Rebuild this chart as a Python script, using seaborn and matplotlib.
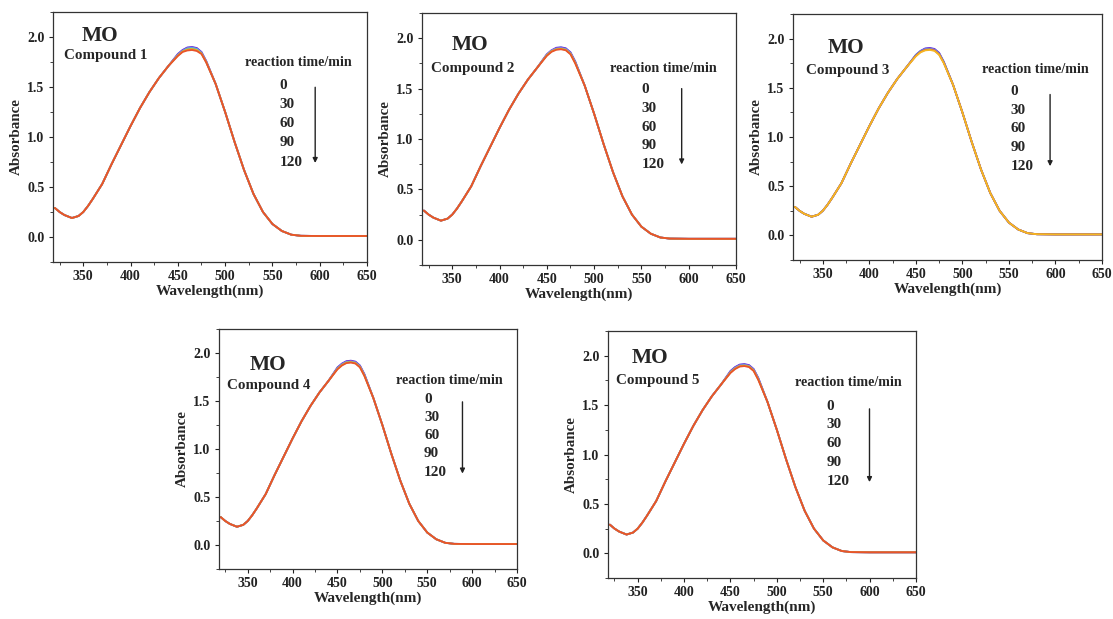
import matplotlib
matplotlib.use("Agg")
import matplotlib.pyplot as plt
from matplotlib.ticker import AutoMinorLocator
import seaborn as sns
import pandas as pd

# ---------------- data ----------------
times = [0, 30, 60, 90, 120]
compounds = ["Compound 1", "Compound 2", "Compound 3", "Compound 4", "Compound 5"]

wl_left = [320, 325, 330, 338, 345, 350, 355, 360, 370, 380, 390, 400, 410, 420, 430, 440]
abs_left = [0.29, 0.25, 0.22, 0.19, 0.21, 0.25, 0.31, 0.38, 0.53, 0.73, 0.92, 1.11, 1.29, 1.45, 1.59, 1.71]

wl_peak = [450, 455, 460, 465, 470, 475, 480]
peak_c1 = [[1.83, 1.87, 1.895, 1.90, 1.89, 1.85, 1.76],
           [1.825, 1.865, 1.89, 1.895, 1.885, 1.845, 1.755],
           [1.82, 1.86, 1.885, 1.89, 1.88, 1.84, 1.75],
           [1.815, 1.855, 1.875, 1.88, 1.87, 1.835, 1.75],
           [1.81, 1.85, 1.865, 1.87, 1.86, 1.83, 1.745]]
peak_c2 = [[1.84, 1.88, 1.905, 1.91, 1.90, 1.86, 1.77],
           [1.84, 1.88, 1.90, 1.905, 1.895, 1.855, 1.765],
           [1.835, 1.875, 1.895, 1.90, 1.89, 1.85, 1.76],
           [1.83, 1.87, 1.89, 1.895, 1.885, 1.845, 1.755],
           [1.825, 1.865, 1.885, 1.89, 1.88, 1.84, 1.75]]
peak_c3 = [[1.835, 1.875, 1.90, 1.905, 1.895, 1.855, 1.765],
           [1.83, 1.87, 1.895, 1.90, 1.89, 1.85, 1.76],
           [1.83, 1.87, 1.89, 1.895, 1.885, 1.845, 1.76],
           [1.825, 1.865, 1.885, 1.89, 1.88, 1.84, 1.755],
           [1.82, 1.86, 1.88, 1.885, 1.875, 1.835, 1.75]]
peak_c4 = [[1.85, 1.89, 1.915, 1.92, 1.91, 1.87, 1.78],
           [1.845, 1.885, 1.91, 1.915, 1.905, 1.865, 1.775],
           [1.84, 1.88, 1.905, 1.91, 1.90, 1.86, 1.77],
           [1.835, 1.875, 1.90, 1.905, 1.895, 1.855, 1.765],
           [1.83, 1.87, 1.895, 1.90, 1.89, 1.85, 1.76]]
peak_c5 = [[1.845, 1.885, 1.91, 1.915, 1.905, 1.865, 1.775],
           [1.84, 1.88, 1.905, 1.91, 1.90, 1.86, 1.77],
           [1.835, 1.875, 1.90, 1.905, 1.895, 1.855, 1.765],
           [1.83, 1.87, 1.895, 1.90, 1.89, 1.85, 1.76],
           [1.825, 1.865, 1.89, 1.895, 1.885, 1.845, 1.755]]
peaks = [peak_c1, peak_c2, peak_c3, peak_c4, peak_c5]

wl_right = [490, 500, 510, 520, 530, 540, 550, 560, 570, 580, 600, 625, 650]
abs_right = [1.53, 1.25, 0.95, 0.67, 0.43, 0.25, 0.13, 0.06, 0.023, 0.012, 0.01, 0.01, 0.01]

palettes = [
    ["#3A2BD9", "#C03AE0", "#36C8D8", "#F2A71F", "#E8532B"],
    ["#3A2BD9", "#C03AE0", "#36C8D8", "#F2A71F", "#E8532B"],
    ["#3A2BD9", "#C03AE0", "#36C8D8", "#E8532B", "#F5B722"],
    ["#3A2BD9", "#C03AE0", "#36C8D8", "#F2A71F", "#E8532B"],
    ["#3A2BD9", "#C03AE0", "#36C8D8", "#F2A71F", "#E8532B"],
]

# ---------------- layout ----------------
W, H = 1113, 619
axes_px = [(53, 12, 367, 262), (422, 13, 736, 265), (793, 14, 1102, 260),
           (219, 329, 517, 569), (608, 331, 916, 578)]
text_pos = [
    dict(mo=(0.149, 0.905), cp=(0.035, 0.825), rt=(0.612, 0.800), nx=0.721, ny=(0.705, 0.400), ax_=(0.835, 0.710, 0.385)),
    dict(mo=(0.152, 0.874), cp=(0.030, 0.780), rt=(0.598, 0.780), nx=0.700, ny=(0.698, 0.397), ax_=(0.827, 0.711, 0.388)),
    dict(mo=(0.173, 0.860), cp=(0.041, 0.770), rt=(0.611, 0.775), nx=0.705, ny=(0.684, 0.382), ax_=(0.832, 0.684, 0.370)),
    dict(mo=(0.165, 0.851), cp=(0.027, 0.764), rt=(0.594, 0.785), nx=0.688, ny=(0.708, 0.403), ax_=(0.817, 0.708, 0.386)),
    dict(mo=(0.136, 0.892), cp=(0.027, 0.800), rt=(0.607, 0.790), nx=0.710, ny=(0.696, 0.390), ax_=(0.849, 0.696, 0.377)),
]

sns.set_style("ticks")
plt.rcParams["font.family"] = ["Liberation Serif", "DejaVu Serif"]
plt.rcParams["font.weight"] = "bold"
plt.rcParams["axes.labelweight"] = "bold"

fig = plt.figure(figsize=(W / 100, H / 100), dpi=100)

for i in range(5):
    l, t, r, b = axes_px[i]
    ax = fig.add_axes([l / W, 1 - b / H, (r - l) / W, (b - t) / H])
    rows = []
    for k, tm in enumerate(times):
        wl = wl_left + wl_peak + wl_right
        ab = abs_left + peaks[i][k] + abs_right
        for w_, a_ in zip(wl, ab):
            rows.append({"Wavelength": w_, "Absorbance": a_, "time": str(tm)})
    df = pd.DataFrame(rows)
    pal = {str(tm): c for tm, c in zip(times, palettes[i])}
    sns.lineplot(data=df, x="Wavelength", y="Absorbance", hue="time",
                 palette=pal, legend=False, ax=ax, lw=1.3, sort=True)

    ax.set_xlim(318, 650)
    ax.set_ylim(-0.25, 2.25)
    ax.set_xticks([350, 400, 450, 500, 550, 600, 650])
    ax.set_yticks([0.0, 0.5, 1.0, 1.5, 2.0])
    ax.set_yticklabels(["0.0", "0.5", "1.0", "1.5", "2.0"])
    ax.xaxis.set_minor_locator(AutoMinorLocator(2))
    ax.yaxis.set_minor_locator(AutoMinorLocator(2))
    ax.tick_params(axis="both", which="major", direction="out", length=3, width=0.8,
                   labelsize=10, colors="#222222", pad=3)
    ax.tick_params(axis="both", which="minor", direction="out", length=2, width=0.6, colors="#222222")
    for lab in ax.get_xticklabels() + ax.get_yticklabels():
        lab.set_fontweight("bold")
    for sp in ax.spines.values():
        sp.set_color("#333333")
        sp.set_linewidth(0.9)
    ax.set_xlabel("Wavelength(nm)", fontsize=11, fontweight="bold", labelpad=1)
    ax.set_ylabel("Absorbance", fontsize=10.8, fontweight="bold", labelpad=3)

    tp = text_pos[i]
    tr = ax.transAxes
    ax.text(tp["mo"][0], tp["mo"][1], "MO", transform=tr, fontsize=15.4, fontweight="bold",
            ha="center", va="center")
    ax.text(tp["cp"][0], tp["cp"][1], compounds[i], transform=tr, fontsize=10.8, fontweight="bold",
            ha="left", va="center")
    ax.text(tp["rt"][0], tp["rt"][1], "reaction time/min", transform=tr, fontsize=10.2,
            fontweight="bold", ha="left", va="center")
    y0, y1 = tp["ny"]
    for k, tm in enumerate(times):
        yy = y0 + (y1 - y0) * k / 4
        ax.text(tp["nx"], yy, str(tm), transform=tr, fontsize=11, fontweight="bold",
                ha="left", va="center")
    axx, ys, ye = tp["ax_"]
    ax.annotate("", xy=(axx, ye), xytext=(axx, ys), xycoords=tr, textcoords=tr,
                arrowprops=dict(arrowstyle="-|>", color="#222222", lw=1.0, mutation_scale=7))

fig.savefig("out.png", dpi=100)
